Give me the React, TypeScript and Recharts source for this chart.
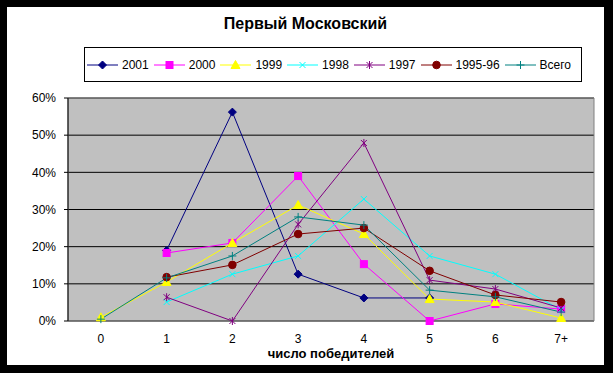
import React from 'react';
import { LineChart, Line, XAxis, YAxis, CartesianGrid, ReferenceArea, Label } from 'recharts';

const categories = ['0', '1', '2', '3', '4', '5', '6', '7+'];

const s2001 = [null, 0.19, 0.562, 0.126, 0.062, 0.062, null, null];
const s2000 = [null, 0.183, 0.21, 0.39, 0.153, 0, 0.046, 0.032];
const s1999 = [0.01, 0.105, 0.21, 0.312, 0.234, 0.059, 0.051, 0.008];
const s1998 = [null, 0.051, 0.126, 0.175, 0.328, 0.175, 0.126, 0.03];
const s1997 = [null, 0.064, 0, 0.26, 0.479, 0.11, 0.086, 0.035];
const s1995 = [null, 0.118, 0.151, 0.234, 0.25, 0.135, 0.07, 0.051];
const sTotal = [0.005, 0.116, 0.175, 0.28, 0.258, 0.083, 0.065, 0.024];

const yTicks = [0, 0.1, 0.2, 0.3, 0.4, 0.5, 0.6];

type Shape = 'diamond' | 'square' | 'triangle' | 'x' | 'star' | 'circle' | 'plus';

const series: { key: string; name: string; color: string; shape: Shape; values: (number | null)[] }[] = [
    { key: 'y2001', name: '2001', color: '#000080', shape: 'diamond', values: s2001 },
    { key: 'y2000', name: '2000', color: '#FF00FF', shape: 'square', values: s2000 },
    { key: 'y1999', name: '1999', color: '#FFFF00', shape: 'triangle', values: s1999 },
    { key: 'y1998', name: '1998', color: '#00FFFF', shape: 'x', values: s1998 },
    { key: 'y1997', name: '1997', color: '#800080', shape: 'star', values: s1997 },
    { key: 'y1995', name: '1995-96', color: '#800000', shape: 'circle', values: s1995 },
    { key: 'total', name: 'Всего', color: '#008080', shape: 'plus', values: sTotal },
];

const data = categories.map((c, i) => {
    const row: any = { x: i, label: c };
    series.forEach(s => { row[s.key] = s.values[i]; });
    return row;
});

const FONT = '"Liberation Sans", Arial, sans-serif';

const Marker = ({ shape, color, cx, cy }: { shape: Shape; color: string; cx: number; cy: number }) => {
    switch (shape) {
        case 'diamond':
            return <polygon points={`${cx},${cy - 4} ${cx + 4},${cy} ${cx},${cy + 4} ${cx - 4},${cy}`} fill={color} stroke={color} />;
        case 'square':
            return <rect x={cx - 3.5} y={cy - 3.5} width={7} height={7} fill={color} stroke={color} />;
        case 'triangle':
            return <polygon points={`${cx},${cy - 4.5} ${cx + 4.5},${cy + 3.5} ${cx - 4.5},${cy + 3.5}`} fill={color} stroke={color} />;
        case 'x':
            return <path d={`M${cx - 3},${cy - 3}L${cx + 3},${cy + 3}M${cx - 3},${cy + 3}L${cx + 3},${cy - 3}`} stroke={color} strokeWidth={1} />;
        case 'star':
            return <path d={`M${cx - 3},${cy - 3}L${cx + 3},${cy + 3}M${cx - 3},${cy + 3}L${cx + 3},${cy - 3}M${cx},${cy - 4}L${cx},${cy + 4}`} stroke={color} strokeWidth={1} />;
        case 'circle':
            return <circle cx={cx} cy={cy} r={3.8} fill={color} stroke={color} />;
        case 'plus':
            return <path d={`M${cx - 4},${cy}L${cx + 4},${cy}M${cx},${cy - 4}L${cx},${cy + 4}`} stroke={color} strokeWidth={1} />;
    }
};

const makeDot = (shape: Shape, color: string) => (props: any) => {
    const { cx, cy, index, value } = props;
    if (cx == null || cy == null || value == null) return <g key={`d-${index}`} />;
    return <g key={`d-${index}`}><Marker shape={shape} color={color} cx={cx} cy={cy} /></g>;
};

const LegendBox = () => (
    <div style={{
        position: 'absolute', left: 77, top: 40, width: 496, height: 33, border: '1px solid #000',
        display: 'flex', alignItems: 'center', overflow: 'hidden', whiteSpace: 'nowrap',
        fontFamily: FONT, fontSize: 12, background: '#fff',
    }}>
        {series.map(s => (
            <div key={s.key} style={{ display: 'flex', alignItems: 'center', marginLeft: 2, marginRight: 3 }}>
                <svg width={31} height={12} style={{ display: 'block' }}>
                    <line x1={0} y1={6} x2={31} y2={6} stroke={s.color} strokeWidth={1} />
                    <Marker shape={s.shape} color={s.color} cx={15.5} cy={6} />
                </svg>
                <span style={{ marginLeft: 4 }}>{s.name}</span>
            </div>
        ))}
    </div>
);

export default function App() {
    return (
        <div style={{ position: 'absolute', left: 0, top: 0, width: 613, height: 373, background: '#000' }}>
            <div style={{ position: 'absolute', left: 7, top: 7, width: 597, height: 358, background: '#fff' }}>
                <div style={{
                    position: 'absolute', left: 0, top: 8, width: 597, textAlign: 'center',
                    fontFamily: FONT, fontWeight: 'bold', fontSize: 16,
                }}>Первый Московский</div>
                <LegendBox />
                <div style={{ position: 'absolute', left: 0, top: 0 }}>
                    <LineChart width={597} height={358} data={data} margin={{ top: 91, right: 10, bottom: 14, left: 0 }}>
                        <CartesianGrid vertical={false} stroke="#000" fill="#C0C0C0" fillOpacity={1} />
                        <XAxis xAxisId="grid" dataKey="x" type="number" domain={[-0.5, 7.5]}
                            ticks={[-0.5, 0.5, 1.5, 2.5, 3.5, 4.5, 5.5, 6.5, 7.5]} tick={false}
                            tickLine={{ stroke: '#000' }} tickSize={4} axisLine={{ stroke: '#000' }} height={0} />
                        <XAxis xAxisId="cat" dataKey="x" type="number" domain={[-0.5, 7.5]}
                            ticks={[0, 1, 2, 3, 4, 5, 6, 7]} tickFormatter={(v: number) => categories[v]}
                            tickLine={false} axisLine={false} tickMargin={7} height={30}
                            tick={{ fill: '#000', fontSize: 12, fontFamily: FONT }}>
                            <Label value="число победителей" position="bottom" offset={-2}
                                style={{ fontFamily: FONT, fontSize: 13, fontWeight: 'bold', fill: '#000' }} />
                        </XAxis>
                        <YAxis domain={[0, 0.6]} ticks={yTicks} width={61} tickSize={4} tickMargin={8}
                            tickFormatter={(v: number) => `${Math.round(v * 100)}%`}
                            tickLine={{ stroke: '#000' }} axisLine={{ stroke: '#000' }}
                            tick={{ fill: '#000', fontSize: 12, fontFamily: FONT }} />
                        <ReferenceArea xAxisId="cat" x1={-0.5} x2={7.5} y1={0} y2={0.6} fill="none" stroke="#808080" />
                        {series.map(s => (
                            <Line key={s.key} xAxisId="cat" dataKey={s.key} name={s.name} stroke={s.color}
                                strokeWidth={1} type="linear" isAnimationActive={false}
                                dot={makeDot(s.shape, s.color)} activeDot={false} />
                        ))}
                    </LineChart>
                </div>
            </div>
        </div>
    );
}
